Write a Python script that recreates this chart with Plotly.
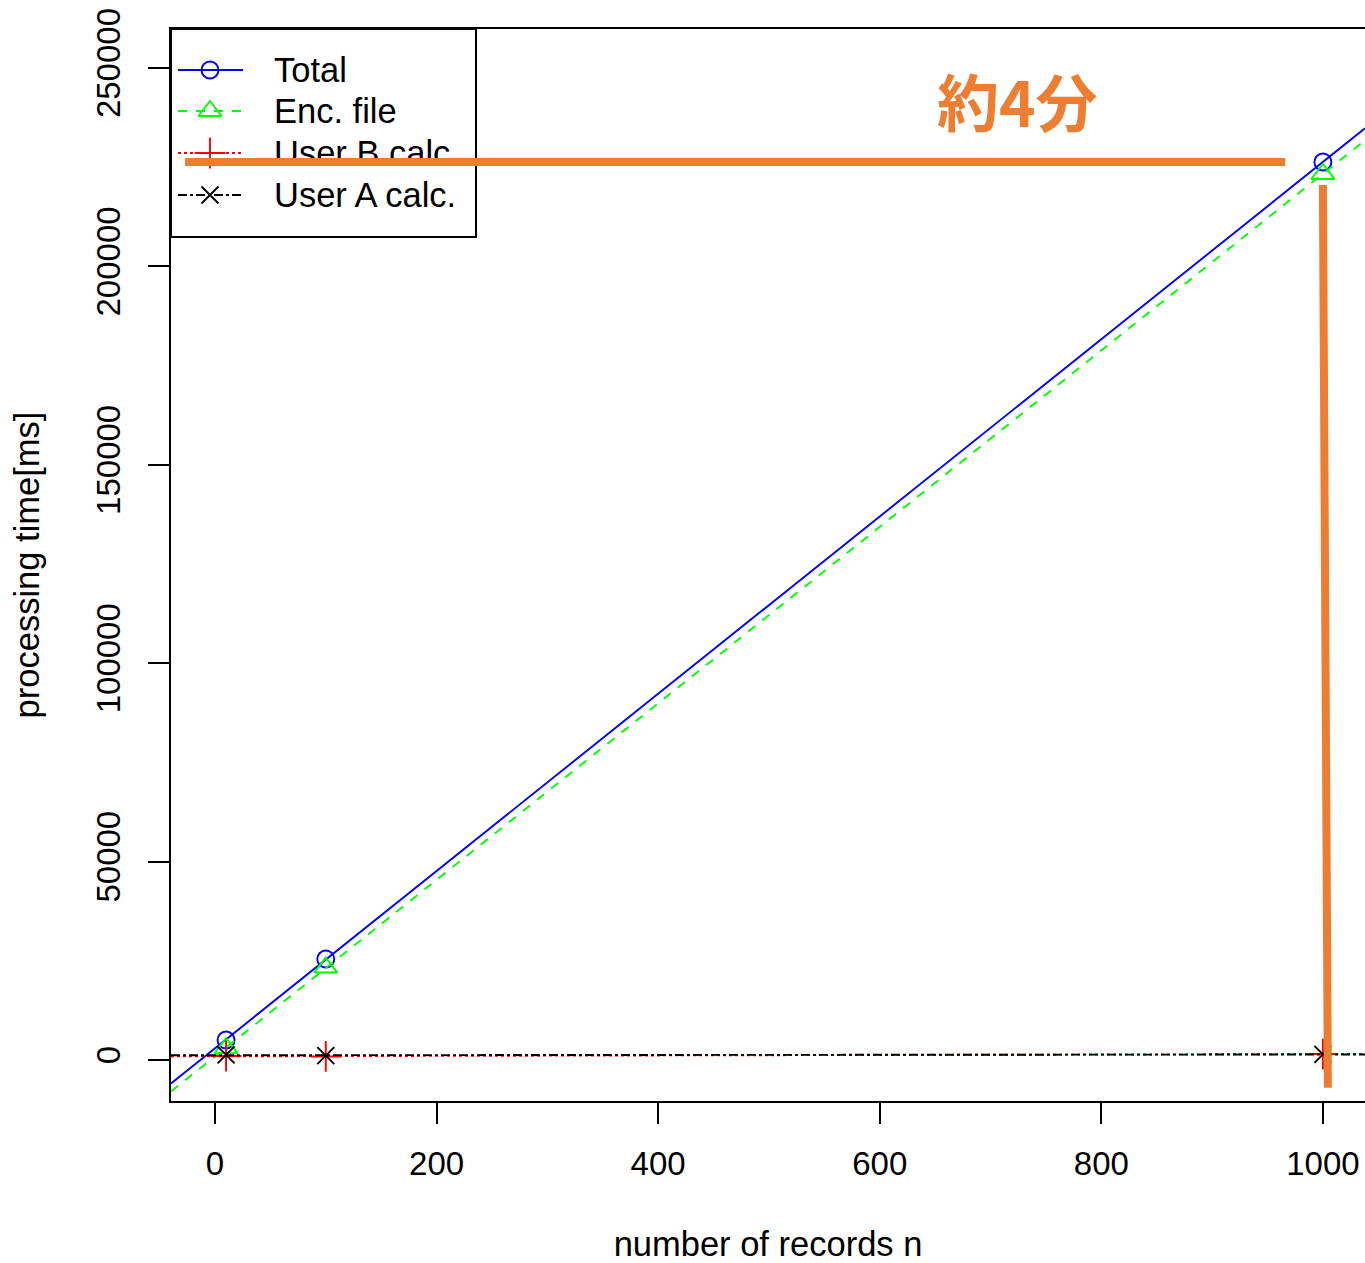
import numpy as np
import plotly.graph_objects as go

# ---- data ----
records = [10, 100, 1000]
total = [5040, 25450, 226300]
enc_file = [3000, 23300, 223300]
user_b_calc = [1000, 900, 1500]
user_a_calc = [1300, 1100, 1400]

series_names = ["Total", "Enc. file", "User B calc.", "User A calc."]
x_ticks = [0, 200, 400, 600, 800, 1000]
y_ticks = [0, 50000, 100000, 150000, 200000, 250000]
note_text = "約4分"

x_range = [-39.7, 1038]
y_range = [-10332, 259826]

FONT = "Liberation Sans, Arial, sans-serif"
ORANGE = "#ED7D31"

styles = [
    dict(color="#0000FF", dash="solid", symbol="circle-open", size=17),
    dict(color="#00FF00", dash="dash", symbol="triangle-up-open", size=20),
    dict(color="#FF0000", dash="dot", symbol="cross-thin-open", size=22),
    dict(color="#000000", dash="dashdot", symbol="x-thin-open", size=17),
]

# layout geometry (pixels)
W, H = 1365, 1263
ML, MT, MB = 171, 29, 162
plot_left, plot_right = ML, W
plot_top, plot_bottom = MT, H - MB

# legend geometry (pixels inside the plot area, used on an overlay pixel axis)
leg_box = dict(x0=171, x1=476, y0=29, y1=237)
leg_rows = [70, 111, 153, 195]
leg_line_x = [178, 243]
leg_marker_x = 210
leg_text_x = 274
leg_text_dy = 3

fig = go.Figure()
all_series = [total, enc_file, user_b_calc, user_a_calc]
fit_x = np.array(x_range)
for name, ys, st in zip(series_names, all_series, styles):
    # regression line (abline) across the whole plot region
    slope, intercept = np.polyfit(records, ys, 1)
    fig.add_trace(go.Scatter(
        x=fit_x, y=slope * fit_x + intercept, mode="lines",
        line=dict(color=st["color"], dash=st["dash"], width=1.9),
        showlegend=False, hoverinfo="skip"))
    # points
    fig.add_trace(go.Scatter(
        x=records, y=ys, mode="markers", name=name,
        marker=dict(symbol=st["symbol"], size=st["size"], color=st["color"],
                    line=dict(width=1.9, color=st["color"])),
        showlegend=False))

# ---- R-style legend drawn on an overlay pixel axis ----
for name, row, st in zip(series_names, leg_rows, styles):
    fig.add_trace(go.Scatter(
        x=leg_line_x, y=[row, row], xaxis="x2", yaxis="y2", mode="lines",
        line=dict(color=st["color"], dash=st["dash"], width=1.9),
        showlegend=False, hoverinfo="skip"))
    fig.add_trace(go.Scatter(
        x=[leg_marker_x], y=[row], xaxis="x2", yaxis="y2", mode="markers",
        marker=dict(symbol=st["symbol"], size=st["size"], color=st["color"],
                    line=dict(width=1.9, color=st["color"])),
        showlegend=False, hoverinfo="skip"))
    fig.add_trace(go.Scatter(
        x=[leg_text_x], y=[row + leg_text_dy], xaxis="x2", yaxis="y2", mode="text",
        text=[name], textposition="middle right",
        textfont=dict(family=FONT, size=34.5, color="black"),
        showlegend=False, hoverinfo="skip", cliponaxis=False))
fig.add_shape(type="rect", xref="x2", yref="y2", **leg_box,
              line=dict(color="black", width=2), fillcolor="rgba(0,0,0,0)", layer="above")

# orange highlight lines derived from the last Total point
hx = records[-1]
hy = total[-1]
fig.add_shape(type="line", xref="x", yref="y", x0=-27, x1=966, y0=hy, y1=hy,
              line=dict(color=ORANGE, width=8), layer="above")
fig.add_shape(type="line", xref="x", yref="y", x0=hx, x1=hx + 4.5,
              y0=hy - 5800, y1=-7000,
              line=dict(color=ORANGE, width=8), layer="above")
fig.add_annotation(x=hx - 276, y=hy + 15600, xref="x", yref="y",
                   text="<b>" + note_text + "</b>", showarrow=False,
                   font=dict(family="Noto Sans CJK JP", size=62, color=ORANGE))

axis_common = dict(
    showgrid=False, zeroline=False, showline=True, linecolor="black", linewidth=2,
    ticks="outside", ticklen=21, tickwidth=2, tickcolor="black", automargin=False,
    tickfont=dict(family=FONT, size=33, color="black"),
)
fig.update_xaxes(range=x_range, tickvals=x_ticks, ticktext=[str(v) for v in x_ticks],
                 mirror=True, ticklabelstandoff=11,
                 title=dict(text="number of records n", standoff=62,
                            font=dict(family=FONT, size=34.5, color="black")),
                 **axis_common)
fig.update_yaxes(range=y_range, tickvals=y_ticks, ticktext=[str(v) for v in y_ticks],
                 mirror=False, tickangle=-90, ticklabelstandoff=15,
                 title=dict(text="processing time[ms]", standoff=40,
                            font=dict(family=FONT, size=34.5, color="black")),
                 **axis_common)

fig.update_layout(
    width=W, height=H,
    margin=dict(l=ML, r=0, t=MT, b=MB),
    plot_bgcolor="white", paper_bgcolor="white",
    showlegend=False,
    xaxis2=dict(overlaying="x", range=[plot_left, plot_right], visible=False,
                fixedrange=True),
    yaxis2=dict(overlaying="y", range=[plot_bottom, plot_top], visible=False,
                fixedrange=True),
    font=dict(family=FONT),
)

fig.write_html("out.html", config={"displayModeBar": False},
               post_script="document.body.style.margin='0px';document.body.style.overflow='hidden';")
